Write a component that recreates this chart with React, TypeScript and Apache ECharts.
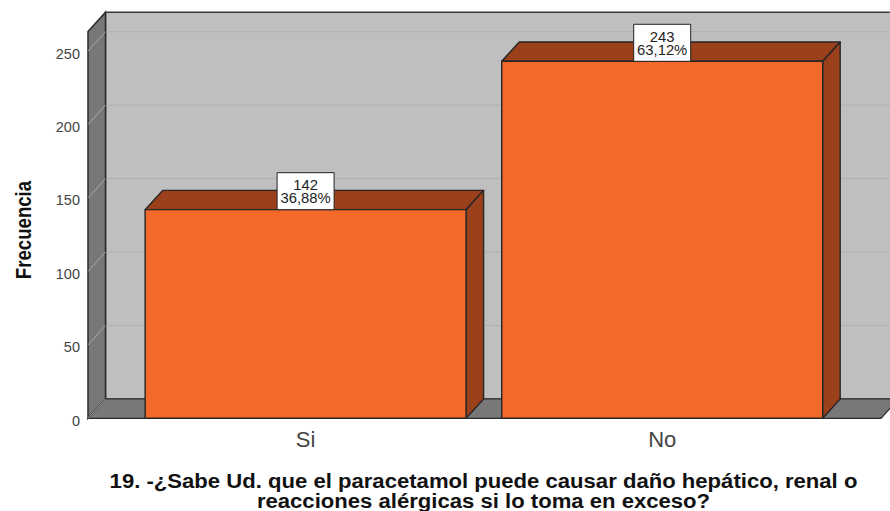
import React, { useEffect, useRef } from "react";
import * as echarts from "echarts";

const categories = ["Si", "No"];
const frecuencia = [142, 243];
const porcentajes = ["36,88%", "63,12%"];
const yTicks = [0, 50, 100, 150, 200, 250];
const titleText =
  "19. -¿Sabe Ud. que el paracetamol puede causar daño hepático, renal o\nreacciones alérgicas si lo toma en exceso?";
const yName = "Frecuencia";

const DX = 17.5;
const DY = 19.3;
const WALL_OUT = 39.3;
const DARK = "#262626";

function renderFrame(params: any, api: any) {
  const cs = params.coordSys;
  const left = cs.x - WALL_OUT;
  const right = cs.x + cs.width + WALL_OUT + 1.2;
  const base = api.coord([0, 0])[1];
  const top = cs.y - 19.5;
  const children: any[] = [];
  // back wall
  children.push({
    type: "rect",
    shape: { x: left + DX, y: top - DY, width: right - left + 40, height: base - top },
    style: { fill: "#bfbfbf", stroke: "#3a3a3a", lineWidth: 1.5 },
  });
  yTicks.forEach((t) => {
    if (t === 0) return;
    const y = api.coord([0, t])[1];
    children.push({
      type: "line",
      shape: { x1: left + DX, y1: y - DY, x2: right + 40, y2: y - DY },
      style: { stroke: "#b0b0b0", lineWidth: 1 },
    });
  });
  // left wall
  children.push({
    type: "polygon",
    shape: { points: [[left, top], [left + DX, top - DY], [left + DX, base - DY], [left, base]] },
    style: { fill: "#787878", stroke: "#2a2a2a", lineWidth: 1.5 },
  });
  // floor
  children.push({
    type: "polygon",
    shape: { points: [[left, base], [left + DX, base - DY], [right + DX, base - DY], [right, base]] },
    style: { fill: "#787878", stroke: "#2a2a2a", lineWidth: 1.2 },
  });
  yTicks.forEach((t) => {
    const y = api.coord([0, t])[1];
    children.push({
      type: "line",
      shape: { x1: left, y1: y, x2: left + DX, y2: y - DY },
      style: { stroke: "#a8a8a8", lineWidth: 1 },
    });
  });
  return { type: "group", children };
}

function renderBar(params: any, api: any) {
  const idx = api.value(0);
  const val = api.value(1);
  const [cx, yTop] = api.coord([idx, val]);
  const yBase = api.coord([idx, 0])[1];
  const w = api.size([1, 0])[0] * 0.9;
  const x0 = cx - w / 2;
  const x1 = cx + w / 2;
  const edge = { stroke: DARK, lineWidth: 1.4, lineJoin: "round" };
  const boxW = 57;
  const boxH = 37;
  const boxX = cx - boxW / 2;
  const boxY = yTop - boxH;
  return {
    type: "group",
    children: [
      {
        type: "polygon",
        shape: { points: [[x0, yTop], [x0 + DX, yTop - DY], [x1 + DX, yTop - DY], [x1, yTop]] },
        style: { fill: "#9a401a", ...edge },
      },
      {
        type: "polygon",
        shape: { points: [[x1, yTop], [x1 + DX, yTop - DY], [x1 + DX, yBase - DY], [x1, yBase]] },
        style: { fill: "#9a401a", ...edge },
      },
      {
        type: "rect",
        shape: { x: x0, y: yTop, width: w, height: yBase - yTop },
        style: { fill: "#f4682a", ...edge },
      },
      {
        type: "rect",
        shape: { x: boxX, y: boxY, width: boxW, height: boxH },
        style: { fill: "#ffffff", stroke: "#222222", lineWidth: 1 },
      },
      {
        type: "text",
        style: {
          text: frecuencia[idx] + "\n" + porcentajes[idx],
          x: cx,
          y: boxY + 19,
          textAlign: "center",
          textVerticalAlign: "middle",
          font: "14.8px 'Liberation Sans'",
          lineHeight: 13,
          fill: "#222222",
        },
      },
    ],
  };
}

export default function App() {
  const ref = useRef<HTMLDivElement>(null);
  useEffect(() => {
    const chart = echarts.init(ref.current!, undefined, { renderer: "svg" });
    chart.setOption({
      animation: false,
      backgroundColor: "#ffffff",
      graphic: [
        {
          type: "text",
          x: 483.5,
          y: 470.5,
          scaleX: 1.053,
          z: 10,
          style: {
            text: titleText,
            textAlign: "center",
            textVerticalAlign: "top",
            font: "bold 21px 'Liberation Sans'",
            lineHeight: 20,
            fill: "#111111",
          },
        },
        {
          type: "text",
          x: 23,
          y: 230,
          rotation: Math.PI / 2,
          scaleX: 0.81,
          z: 10,
          style: {
            text: yName,
            textAlign: "center",
            textVerticalAlign: "middle",
            font: "bold 23px 'Liberation Sans'",
            fill: "#111111",
          },
        },
      ],
      grid: { left: 127.3, right: 49.5, top: 51, bottom: 92.7 },
      xAxis: {
        type: "category",
        data: categories,
        axisLine: { show: false },
        axisTick: { show: false },
        axisLabel: {
          fontFamily: "Liberation Sans",
          fontSize: 22,
          color: "#444444",
          margin: 10,
        },
      },
      yAxis: {
        type: "value",
        min: 0,
        max: 250,
        interval: 50,
        offset: 39.3,
        axisLine: { show: false },
        axisTick: { show: false },
        splitLine: { show: false },
        axisLabel: {
          fontFamily: "Liberation Sans",
          fontSize: 14.5,
          color: "#444444",
          margin: 8,
          verticalAlign: "top",
          lineHeight: 5,
        },
      },
      series: [
        {
          type: "custom",
          name: "marco",
          z: 1,
          silent: true,
          renderItem: renderFrame,
          data: [[0, 0]],
          encode: { x: 0, y: 1 },
        },
        {
          type: "custom",
          name: yName,
          z: 3,
          renderItem: renderBar,
          data: frecuencia.map((v, i) => [i, v]),
          encode: { x: 0, y: 1 },
        },
      ],
    });
    return () => chart.dispose();
  }, []);
  return (
    <div
      ref={ref}
      style={{ position: "fixed", left: 0, top: 0, width: 890, height: 511 }}
    />
  );
}
